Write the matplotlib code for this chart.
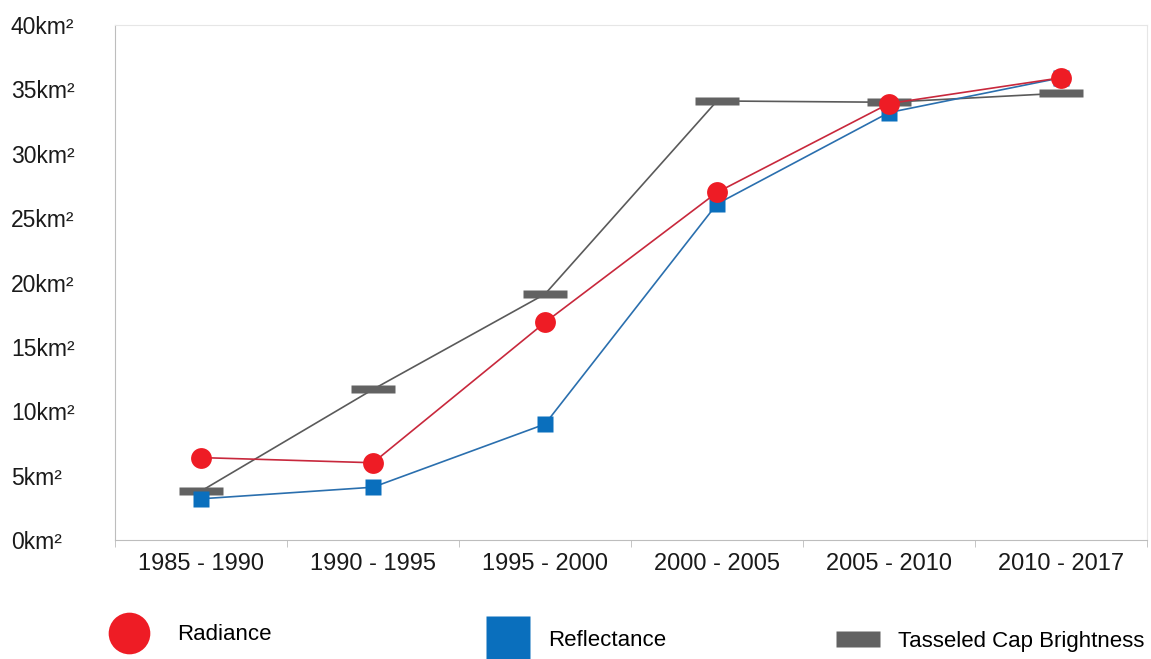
import numpy as np
import matplotlib.pyplot as plt
from matplotlib.path import Path
from matplotlib.lines import Line2D

plt.rcParams['font.family'] = ['Liberation Sans', 'DejaVu Sans']

# surface per period, km²
periods = ['1985 - 1990', '1990 - 1995', '1995 - 2000',
           '2000 - 2005', '2005 - 2010', '2010 - 2017']
radiance = [6.4, 6.0, 16.9, 27.0, 33.9, 35.9]
reflectance = [3.2, 4.1, 9.0, 26.1, 33.2, 35.9]
tasseled = [3.8, 11.7, 19.1, 34.1, 34.0, 34.7]
y_ticks = list(range(0, 45, 5))


def flat_bar(h):
    # wide rectangle marker, h = half height relative to half width
    verts = [(-1, -h), (1, -h), (1, h), (-1, h), (-1, -h)]
    codes = [Path.MOVETO, Path.LINETO, Path.LINETO, Path.LINETO, Path.CLOSEPOLY]
    return Path(verts, codes)


RED = '#ee1c25'
BLUE = '#0a6fbd'
GREY = '#626262'

fig = plt.figure(figsize=(11.51, 6.59), dpi=100)
ax = fig.add_axes([115/1151, 1 - 540/659, 1032/1151, 515/659])

x = np.arange(len(periods))
ax.plot(x, tasseled, color='#5a5a5a', lw=1.2, marker=flat_bar(0.2), ms=31,
        mfc=GREY, mec='none', zorder=2)
ax.plot(x, reflectance, color='#2a6fae', lw=1.2, marker='s', ms=11.5,
        mfc=BLUE, mec='none', zorder=3)
ax.plot(x, radiance, color='#c8283c', lw=1.2, marker='o', ms=15,
        mfc=RED, mec='none', zorder=4)

ax.set_xlim(-0.5, 5.5)
ax.set_ylim(0, 40)
ax.set_xticks(x)
ax.set_xticklabels(periods, fontsize=17, color='#1a1a1a')
ax.set_xticks(np.arange(-0.5, 6, 1), minor=True)
ax.tick_params(axis='x', which='major', length=0, pad=9)
ax.tick_params(axis='x', which='minor', length=5, color='#bbbbbb')
ax.set_yticks(y_ticks)
ax.set_yticklabels([f'{v}km²' for v in y_ticks], fontsize=16.5,
                   ha='left', color='#1a1a1a')
ax.tick_params(axis='y', length=0, pad=75)

for side in ['left', 'bottom']:
    ax.spines[side].set_color('#bdbdbd')
for side in ['top', 'right']:
    ax.spines[side].set_color('#e6e6e6')

# legend entries spread along the bottom
entries = [
    (Line2D([], [], ls='none', marker='o', ms=30, mfc=RED, mec='none'),
     'Radiance', 107/1151, 1 - 635/659, 1.17),
    (Line2D([], [], ls='none', marker='s', ms=31, mfc=BLUE, mec='none'),
     'Reflectance', 486/1151, 1 - 640/659, 0.81),
    (Line2D([], [], ls='none', marker=flat_bar(0.35), ms=31, mfc=GREY, mec='none'),
     'Tasseled Cap Brightness', 836/1151, 1 - 641/659, 0.81),
]
for handle, label, lx, ly, pad in entries:
    fig.legend(handles=[handle], labels=[label], loc='center left',
               bbox_to_anchor=(lx, ly), frameon=False, fontsize=16,
               handletextpad=pad, borderpad=0, borderaxespad=0)

fig.savefig('out.png', dpi=100)
